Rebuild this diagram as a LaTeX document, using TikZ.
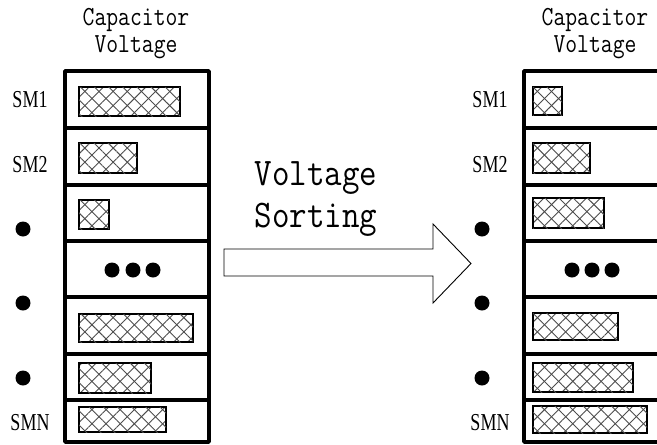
\documentclass[tikz,border=0pt]{standalone}
\usepackage{fontspec}
\setmainfont{Liberation Serif}
\usetikzlibrary{patterns.meta}
\tikzset{
  box/.style={line width=3.5pt, line join=round},
  divline/.style={line width=3.5pt},
  bar/.style={draw=black, line width=2pt, pattern={Lines[angle=45,distance=10pt,line width=0.9pt]}, pattern color=black!70,
    postaction={pattern={Lines[angle=-45,distance=10pt,line width=0.9pt]}, pattern color=black!70}},
  bigdot/.style={fill=black, draw=none},
  smlab/.style={inner sep=0pt, font=\fontsize{18}{18}\selectfont},
  ttl/.style={inner sep=0pt, align=center, font=\ttfamily\fontsize{23}{27}\selectfont},
  sorttxt/.style={inner sep=0pt, align=center, font=\ttfamily\fontsize{34}{42}\selectfont},
  arrowshape/.style={draw=black, line width=0.9pt, fill=white, line join=miter}
}
\begin{document}
\begin{tikzpicture}[x=1pt,y=-1pt]
\useasboundingbox (0,0) rectangle (657,445);
% ---------- titles ----------
\node[ttl] (tl1) at (136,20) {\scalebox{1}[1.2]{Capacitor}};
\node[ttl] (tl2) at (136,47) {\scalebox{1}[1.2]{Voltage}};
\node[ttl] (tr1) at (595,20) {\scalebox{1}[1.2]{Capacitor}};
\node[ttl] (tr2) at (595,47) {\scalebox{1}[1.2]{Voltage}};
% ---------- left column ----------
\draw[box] (65,71) rectangle (209,442);
\foreach \yy in {128,185,241,297,354,400} \draw[divline] (65,\yy) -- (209,\yy);
\draw[bar] (79,87) rectangle (180,116);
\draw[bar] (79,143) rectangle (137,173);
\draw[bar] (79,200) rectangle (109,229);
\draw[bar] (79,314) rectangle (193,342);
\draw[bar] (79,363) rectangle (151,393);
\draw[bar] (79,407) rectangle (166,432);
\foreach \xx in {112,133,153} \fill[bigdot] (\xx,270) circle (7.5);
% ---------- right column ----------
\draw[box] (524,71) rectangle (672,442);
\foreach \yy in {128,185,241,297,354,400} \draw[divline] (524,\yy) -- (672,\yy);
\draw[bar] (533,87) rectangle (562,115);
\draw[bar] (533,143) rectangle (590,173);
\draw[bar] (533,198) rectangle (604,228);
\draw[bar] (533,313) rectangle (618,340);
\draw[bar] (533,363) rectangle (633,392);
\draw[bar] (533,406) rectangle (647,433);
\foreach \xx in {572,592,612} \fill[bigdot] (\xx,270) circle (7.5);
% ---------- side labels ----------
\node[smlab] (lsm1) at (30,100) {\scalebox{1}[1.35]{SM1}};
\node[smlab] (lsm2) at (30,165) {\scalebox{1}[1.35]{SM2}};
\node[smlab] (lsmn) at (30,423) {\scalebox{1}[1.35]{SMN}};
\node[smlab] (rsm1) at (490,100) {\scalebox{1}[1.35]{SM1}};
\node[smlab] (rsm2) at (490,165) {\scalebox{1}[1.35]{SM2}};
\node[smlab] (rsmn) at (490,423) {\scalebox{1}[1.35]{SMN}};
\foreach \yy in {229,303,378} {
  \fill[bigdot] (23,\yy) circle (7.5);
  \fill[bigdot] (482,\yy) circle (7.5);
}
% ---------- arrow ----------
\draw[arrowshape] (224,249) -- (433,249) -- (433,224) -- (471,263.5) -- (433,303) -- (433,276) -- (224,276) -- cycle;
\node[sorttxt] (s1) at (316,178) {\scalebox{1}[1.15]{Voltage}};
\node[sorttxt] (s2) at (316,220) {\scalebox{1}[1.15]{Sorting}};
\end{tikzpicture}
\end{document}
